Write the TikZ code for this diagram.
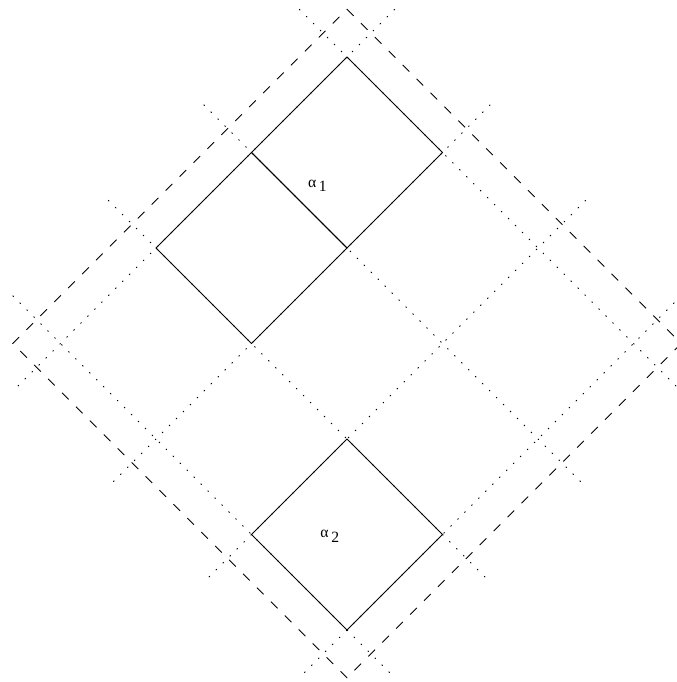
\documentclass[tikz,border=0pt]{standalone}
\usepackage{amsmath}
\usepackage{amssymb}
\usepackage{fontspec}
\setmainfont{Liberation Serif}
\usepackage{tikz}

\begin{document}
\begin{tikzpicture}[x={(1.5cm,-1.5cm)}, y={(-1.5cm,-1.5cm)}]
      \tikzstyle{dots} = [dash pattern=on 0.6pt off 3.8pt]
      \tikzstyle{frame} = [dash pattern=on 4.2pt off 4.6pt]
      \tikzstyle{lab} = [inner sep = 0pt, font=\fontsize{7}{8}\selectfont]
      \clip (-5.450cm,0.895cm) rectangle (5.183cm,-9.817cm);
      \foreach \k in {0,...,3}{
        \coordinate(u\k) at (\k,-0.5);
        \coordinate(v\k) at (\k,3.5);
        \coordinate(p\k) at (-0.5,\k);
        \coordinate(q\k) at (3.5,\k);
        \foreach \l in {0,...,3}{
          \coordinate(c\k\l) at (\k,\l);
        }
      }
      \foreach \k in {0,...,3}{
        \path[dots] (u\k) edge (v\k);
        \path[dots] (p\k) edge (q\k);
      }
      \coordinate(f0) at (-0.25,-0.25);
      \coordinate(f1) at (3.25,-0.25);
      \coordinate(f2) at (3.25,3.25);
      \coordinate(f3) at (-0.25,3.25);
      \draw[frame] (f0) -- (f1) -- (f2) -- (f3) -- cycle;
      \draw (c00) -- (c10) -- (c11) -- (c01) -- cycle;
      \draw (c01) -- (c11) -- (c12) -- (c02) -- cycle;
      \draw (c22) -- (c32) -- (c33) -- (c23) -- cycle;
      \node[lab](a1) at (0.52,0.83) {α\,\raisebox{-0.6ex}{1}};
      \node[lab](a2) at (2.42,2.60) {α\,\raisebox{-0.6ex}{2}};
    \end{tikzpicture}
\end{document}
